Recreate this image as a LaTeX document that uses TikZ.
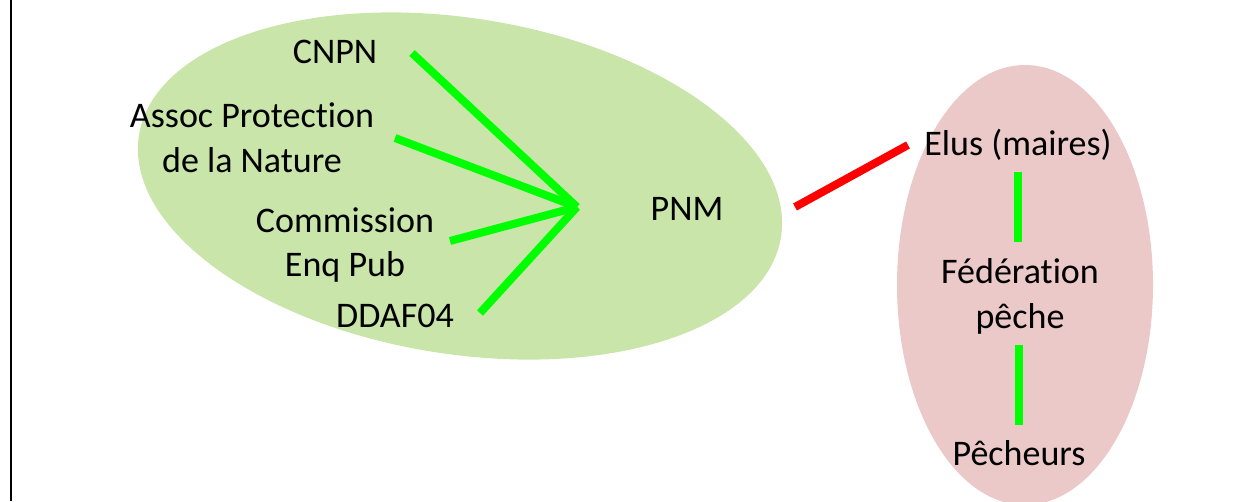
\documentclass[tikz,border=0pt]{standalone}
\usepackage{fontspec}
\setmainfont{Carlito}[Ligatures=NoCommon]
\definecolor{zonegreen}{RGB}{201,229,170}
\definecolor{zonepink}{RGB}{236,201,201}
\definecolor{linkgreen}{RGB}{0,255,0}
\definecolor{linkred}{RGB}{255,0,0}
\begin{document}
\begin{tikzpicture}[x=0.02cm,y=-0.02cm,
	actor/.style={inner sep=0pt,align=center,font=\fontsize{20.5pt}{25.6pt}\selectfont},
	link/.style={line width=0.16cm,draw=linkgreen},
	clash/.style={line width=0.16cm,draw=linkred}]

	\useasboundingbox (0,0) rectangle (1239,501);
	\draw[line width=0.04cm] (11,0) -- (11,501);

	\fill[zonegreen,rotate around={-9:(460,186)}] (460,186) ellipse [x radius=325, y radius=168];
	\fill[zonepink] (1025,285) ellipse [x radius=128, y radius=220];

	\node[actor,anchor=base] (cnpn) at (335,63) {CNPN};
	\node[actor] (assoc) at (252,138) {Assoc Protection\\de la Nature};
	\node[actor] (commission) at (345,245) {Commission\\Enq Pub};
	\node[actor,anchor=base] (ddaf) at (395,327) {DDAF04};
	\node[actor,anchor=base] (pnm) at (687,220) {PNM};
	\node[actor,anchor=base] (elus) at (1018,155) {Elus (maires)};
	\node[actor] (fede) at (1020,296) {Fédération\\pêche};
	\node[actor,anchor=base] (pecheurs) at (1019,465) {Pêcheurs};

	\coordinate (hub) at (577,207);
	\coordinate (cnpn-r) at (412,53);
	\coordinate (assoc-r) at (395,138);
	\coordinate (commission-r) at (450,241);
	\coordinate (ddaf-r) at (480,313);
	\path[link] (cnpn-r) edge (hub);
	\path[link] (assoc-r) edge (hub);
	\path[link] (commission-r) edge (hub);
	\path[link] (ddaf-r) edge (hub);

	\coordinate (pnm-r) at (795,207);
	\coordinate (elus-l) at (908,145);
	\path[clash] (pnm-r) edge (elus-l);

	\coordinate (elus-s) at (1018,172);
	\coordinate (fede-n) at (1018,242);
	\path[link] (elus-s) edge (fede-n);
	\coordinate (fede-s) at (1019,345);
	\coordinate (pecheurs-n) at (1019,425);
	\path[link] (fede-s) edge (pecheurs-n);

\end{tikzpicture}
\end{document}
